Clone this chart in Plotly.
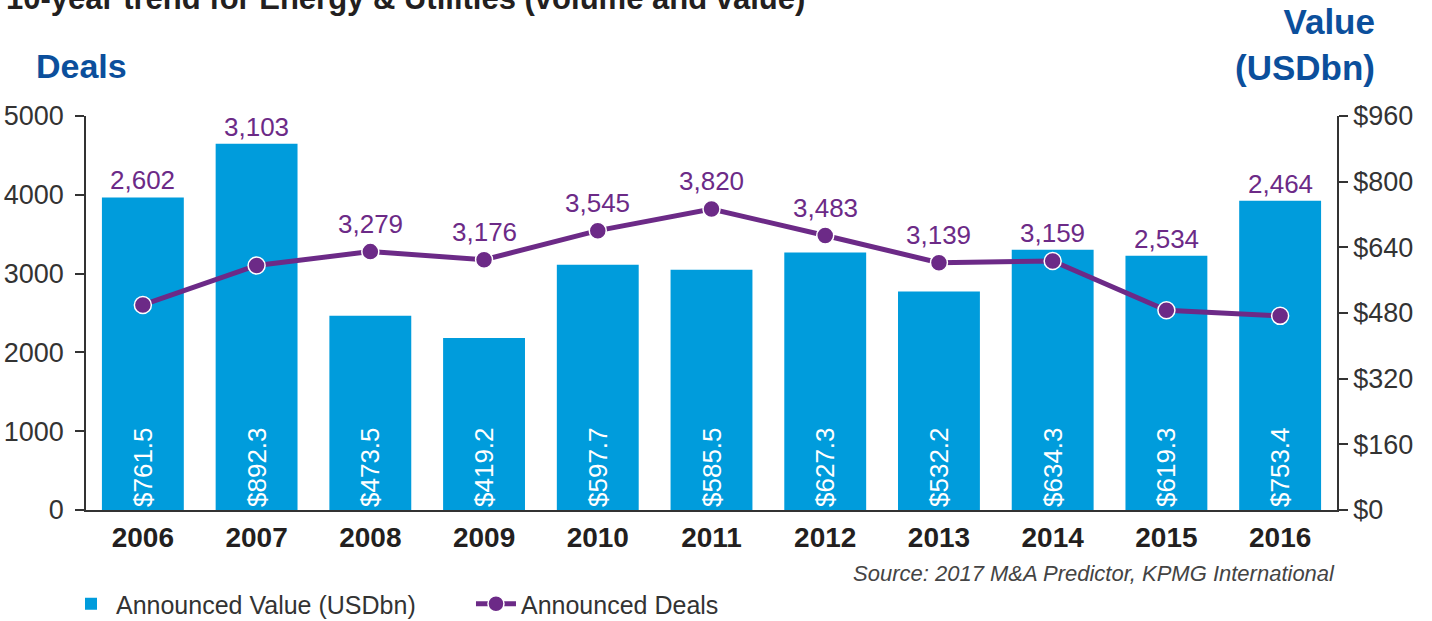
import plotly.graph_objects as go

years = ["2006", "2007", "2008", "2009", "2010", "2011", "2012", "2013", "2014", "2015", "2016"]
value_usdbn = [761.5, 892.3, 473.5, 419.2, 597.7, 585.5, 627.3, 532.2, 634.3, 619.3, 753.4]
deals = [2602, 3103, 3279, 3176, 3545, 3820, 3483, 3139, 3159, 2534, 2464]

deal_ticks = [0, 1000, 2000, 3000, 4000, 5000]
value_ticks = [0, 160, 320, 480, 640, 800, 960]

BAR = "#009CDC"
LINE = "#6C2A87"
BLUE = "#0B4F9C"
FONT = "Liberation Sans, Arial, sans-serif"

DEALS_MAX = 5000
VALUE_MAX = 960

fig = go.Figure()

# Value bars on the base (right-hand) axis so the deals line overlays them
fig.add_trace(go.Bar(
    x=years, y=value_usdbn, yaxis="y", name="Announced Value (USDbn)",
    marker=dict(color=BAR, line=dict(width=0)),
    text=[f"${v:.1f}" for v in value_usdbn],
    textposition="inside", insidetextanchor="start", textangle=-90,
    textfont=dict(color="white", size=26, family=FONT),
))

fig.add_trace(go.Scatter(
    x=years, y=deals, yaxis="y2", name="Announced Deals",
    mode="lines+markers",
    line=dict(color=LINE, width=5),
    marker=dict(color=LINE, size=17, line=dict(color="white", width=1.5)),
    cliponaxis=False,
))

# Deal counts sit above whichever is higher: the bar or the point
annotations = []
for i, (v, d) in enumerate(zip(value_usdbn, deals)):
    bar_in_deals = v * DEALS_MAX / VALUE_MAX
    if bar_in_deals >= d:
        y, shift = bar_in_deals, 0
    else:
        y, shift = d, 11
    annotations.append(dict(
        x=i, y=y, xref="x", yref="y2", text=f"{d:,}", showarrow=False,
        yanchor="bottom", yshift=shift,
        font=dict(color=LINE, size=26, family=FONT),
    ))

annotations += [
    dict(text="<b>10-year trend for Energy & Utilities (volume and value)</b>",
         xref="paper", yref="paper", x=-82 / 1252, y=(510 - 8) / 394,
         xanchor="left", yanchor="bottom", yshift=-10, showarrow=False,
         font=dict(color="#231F20", size=31, family=FONT)),
    dict(text="<b>Deals</b>", xref="paper", yref="paper",
         x=-52 / 1252, y=(510 - 66) / 394, xanchor="left", yanchor="middle",
         showarrow=False, font=dict(color=BLUE, size=34, family=FONT)),
    dict(text="<b>Value<br>(USDbn)</b>", xref="paper", yref="paper",
         x=(1378 - 86) / 1252, y=(510 - 45) / 394, xanchor="right", yanchor="middle",
         align="right", showarrow=False, font=dict(color=BLUE, size=35, family=FONT)),
    dict(text="<i>Source: 2017 M&A Predictor, KPMG International</i>",
         xref="paper", yref="paper", x=1.0, y=(510 - 573) / 394,
         xanchor="right", yanchor="middle", showarrow=False,
         font=dict(color="#444444", size=22, family=FONT)),
]

fig.update_layout(
    width=1432, height=621,
    margin=dict(l=86, r=95, t=116, b=111, autoexpand=False),
    paper_bgcolor="white", plot_bgcolor="white",
    font=dict(family=FONT, color="#333333"),
    bargap=0.28,
    showlegend=True,
    legend=dict(orientation="h", x=-0.016, y=(510 - 604) / 394,
                xanchor="left", yanchor="middle",
                font=dict(size=25, color="#333333", family=FONT),
                itemwidth=40, entrywidth=350, tracegroupgap=0),
    xaxis=dict(
        type="category", range=[-0.5, 10.5], showline=True,
        linecolor="#333333", linewidth=1.5,
        ticks="", tickfont=dict(size=28, color="#231F20", family=FONT),
        tickprefix="<b>", ticksuffix="</b>", showgrid=False,
        ticklabelstandoff=2,
    ),
    yaxis=dict(
        range=[0, VALUE_MAX], tickvals=value_ticks,
        ticktext=[f"${t}" for t in value_ticks],
        side="right", showline=True, linecolor="#333333",
        linewidth=1.5, ticks="outside", ticklen=9, tickcolor="#333333",
        tickwidth=1.5, showgrid=False, zeroline=False,
        tickfont=dict(size=27, color="#333333", family=FONT),
        ticklabelstandoff=0,
    ),
    yaxis2=dict(
        range=[0, DEALS_MAX], tickvals=deal_ticks, overlaying="y", side="left",
        showline=True, linecolor="#333333", linewidth=1.5, ticks="outside",
        ticklen=9, tickcolor="#333333", tickwidth=1.5, showgrid=False,
        zeroline=False, tickfont=dict(size=27, color="#333333", family=FONT),
        ticklabelstandoff=6,
    ),
    annotations=annotations,
)

fig.write_html("out.html")
